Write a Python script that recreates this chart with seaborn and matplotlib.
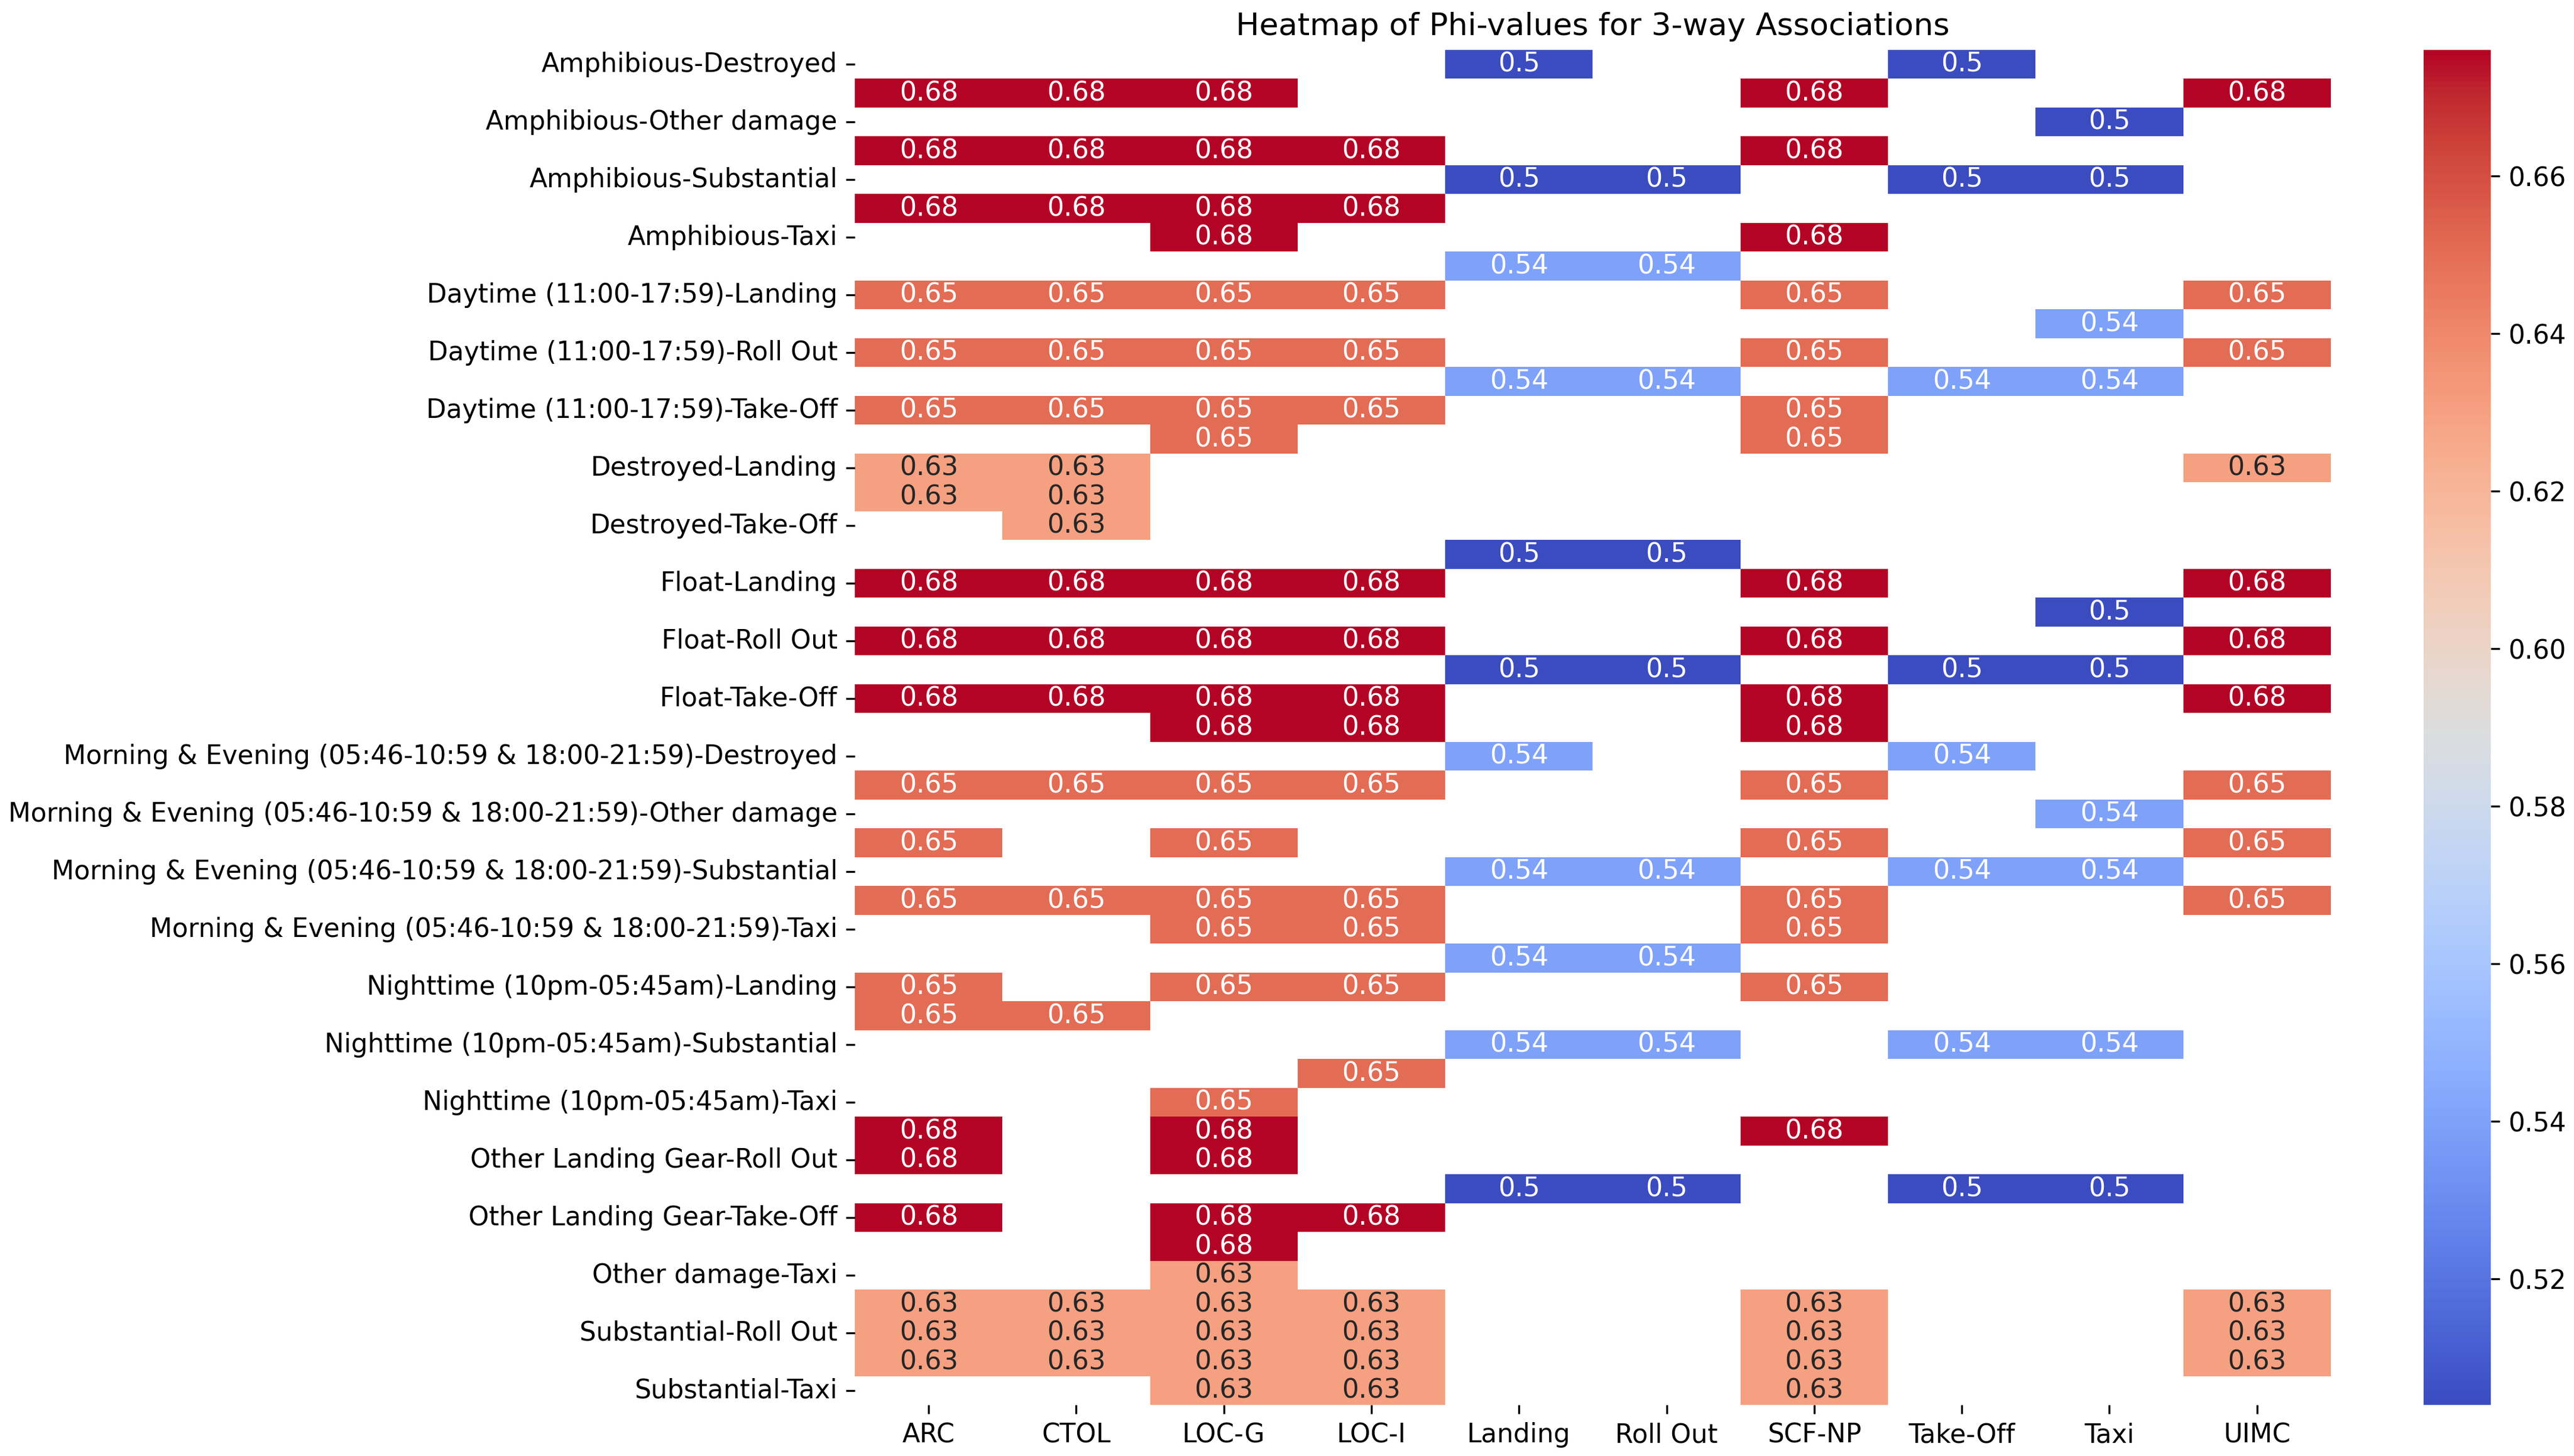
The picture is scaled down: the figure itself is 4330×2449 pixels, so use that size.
import numpy as np
import pandas as pd
import matplotlib
matplotlib.use("Agg")
import matplotlib.pyplot as plt
import seaborn as sns

n = np.nan

columns = ["ARC", "CTOL", "LOC-G", "LOC-I", "Landing", "Roll Out",
           "SCF-NP", "Take-Off", "Taxi", "UIMC"]

day = "Daytime (11:00-17:59)"
me = "Morning & Evening (05:46-10:59 & 18:00-21:59)"
night = "Nighttime (10pm-05:45am)"
olg = "Other Landing Gear"

row_labels = [
    "Amphibious-Destroyed", "Amphibious-Landing",
    "Amphibious-Other damage", "Amphibious-Roll Out",
    "Amphibious-Substantial", "Amphibious-Take-Off",
    "Amphibious-Taxi", f"{day}-Destroyed",
    f"{day}-Landing", f"{day}-Other damage",
    f"{day}-Roll Out", f"{day}-Substantial",
    f"{day}-Take-Off", f"{day}-Taxi",
    "Destroyed-Landing", "Destroyed-Roll Out",
    "Destroyed-Take-Off", "Float-Destroyed",
    "Float-Landing", "Float-Other damage",
    "Float-Roll Out", "Float-Substantial",
    "Float-Take-Off", "Float-Taxi",
    f"{me}-Destroyed", f"{me}-Landing",
    f"{me}-Other damage", f"{me}-Roll Out",
    f"{me}-Substantial", f"{me}-Take-Off",
    f"{me}-Taxi", f"{night}-Destroyed",
    f"{night}-Landing", f"{night}-Roll Out",
    f"{night}-Substantial", f"{night}-Take-Off",
    f"{night}-Taxi", f"{olg}-Landing",
    f"{olg}-Roll Out", f"{olg}-Substantial",
    f"{olg}-Take-Off", f"{olg}-Taxi",
    "Other damage-Taxi", "Substantial-Landing",
    "Substantial-Roll Out", "Substantial-Take-Off",
    "Substantial-Taxi",
]

# phi values, one list per row (columns in the order above)
phi_values = [
    [n, n, n, n, .504, n, n, .504, n, n],
    [.676, .676, .676, n, n, n, .676, n, n, .676],
    [n, n, n, n, n, n, n, n, .504, n],
    [.676, .676, .676, .676, n, n, .676, n, n, n],
    [n, n, n, n, .504, .504, n, .504, .504, n],
    [.676, .676, .676, .676, n, n, n, n, n, n],
    [n, n, .676, n, n, n, .676, n, n, n],
    [n, n, n, n, .54, .54, n, n, n, n],
    [.65, .65, .65, .65, n, n, .65, n, n, .65],
    [n, n, n, n, n, n, n, n, .54, n],
    [.65, .65, .65, .65, n, n, .65, n, n, .65],
    [n, n, n, n, .54, .54, n, .54, .54, n],
    [.65, .65, .65, .65, n, n, .65, n, n, n],
    [n, n, .65, n, n, n, .65, n, n, n],
    [.63, .63, n, n, n, n, n, n, n, .63],
    [.63, .63, n, n, n, n, n, n, n, n],
    [n, .63, n, n, n, n, n, n, n, n],
    [n, n, n, n, .504, .504, n, n, n, n],
    [.676, .676, .676, .676, n, n, .676, n, n, .676],
    [n, n, n, n, n, n, n, n, .504, n],
    [.676, .676, .676, .676, n, n, .676, n, n, .676],
    [n, n, n, n, .504, .504, n, .504, .504, n],
    [.676, .676, .676, .676, n, n, .676, n, n, .676],
    [n, n, .676, .676, n, n, .676, n, n, n],
    [n, n, n, n, .54, n, n, .54, n, n],
    [.65, .65, .65, .65, n, n, .65, n, n, .65],
    [n, n, n, n, n, n, n, n, .54, n],
    [.65, n, .65, n, n, n, .65, n, n, .65],
    [n, n, n, n, .54, .54, n, .54, .54, n],
    [.65, .65, .65, .65, n, n, .65, n, n, .65],
    [n, n, .65, .65, n, n, .65, n, n, n],
    [n, n, n, n, .54, .54, n, n, n, n],
    [.65, n, .65, .65, n, n, .65, n, n, n],
    [.65, .65, n, n, n, n, n, n, n, n],
    [n, n, n, n, .54, .54, n, .54, .54, n],
    [n, n, n, .65, n, n, n, n, n, n],
    [n, n, .65, n, n, n, n, n, n, n],
    [.676, n, .676, n, n, n, .676, n, n, n],
    [.676, n, .676, n, n, n, n, n, n, n],
    [n, n, n, n, .504, .504, n, .504, .504, n],
    [.676, n, .676, .676, n, n, n, n, n, n],
    [n, n, .676, n, n, n, n, n, n, n],
    [n, n, .63, n, n, n, n, n, n, n],
    [.63, .63, .63, .63, n, n, .63, n, n, .63],
    [.63, .63, .63, .63, n, n, .63, n, n, .63],
    [.63, .63, .63, .63, n, n, .63, n, n, .63],
    [n, n, .63, .63, n, n, .63, n, n, n],
]

phi_df = pd.DataFrame(phi_values, index=row_labels, columns=columns)

fig = plt.figure(figsize=(4330 / 300, 2449 / 300), dpi=300)
ax = fig.add_axes([0.3321, 0.035, 0.5734, 0.9307])
cax = fig.add_axes([0.9416, 0.035, 0.0261, 0.9307])

sns.heatmap(phi_df, annot=True, cmap="coolwarm", ax=ax, cbar_ax=cax,
            yticklabels=2, annot_kws={"size": 10.7})
ax.set_title("Heatmap of Phi-values for 3-way Associations", fontsize=12.6)
ax.tick_params(axis="both", labelsize=10.5)
ax.tick_params(axis="x", rotation=0)
cax.tick_params(labelsize=10.5)

fig.savefig("out.png", dpi=300)
